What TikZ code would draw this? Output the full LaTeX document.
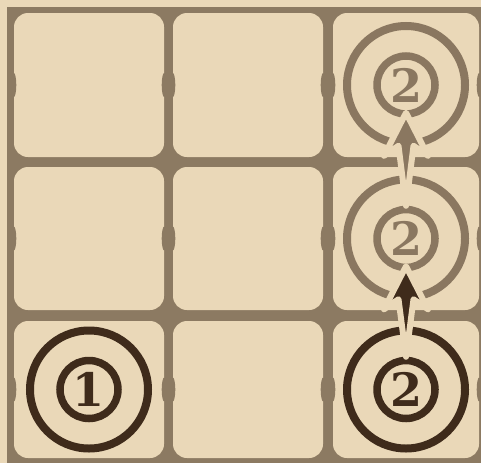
\documentclass[tikz,border=0pt]{standalone}
\usepackage{fontspec}
\usepackage{xcolor}
\usepackage{tikz}
\usetikzlibrary{calc}
\newfontfamily\digitfont{DejaVu Serif}
\definecolor{paper}{HTML}{EAD8B8}
\definecolor{gridbrown}{HTML}{8C7A62}
\definecolor{ringlight}{HTML}{8A7760}
\definecolor{ringdark}{HTML}{3F2B1B}

\tikzset{
  cellbox/.style={fill=paper, rounded corners=14pt, inner sep=0pt},
  outerring/.style={circle, draw=#1, line width=8pt, minimum size=118pt, inner sep=0pt},
  innerring/.style={circle, draw=#1, text=#1, line width=7.5pt, minimum size=58pt,
    inner sep=0pt, font=\digitfont\fontsize{46}{46}\selectfont\bfseries},
}

% spike arrow from the top of #1 up to the bottom of #2
\newcommand{\spike}[3]{%
  \filldraw[draw=paper, line width=6pt, line join=round, fill=#3]
    ($(#2.south)+(0,-5)$) -- ($(#2.south)+(22,38)$) -- ($(#2.south)+(7.5,28)$)
    -- (#1.north) -- ($(#2.south)+(-7.5,28)$) -- ($(#2.south)+(-22,38)$) -- cycle;}

\begin{document}
\begin{tikzpicture}[x=1pt, y=-1pt]
  \useasboundingbox (0,0) rectangle (481,463);
  \fill[paper] (0,0) rectangle (481,463);
  \fill[gridbrown] (7,7) rectangle (481,463);

  % board cells
  \node[cellbox, minimum width=150pt, minimum height=144pt] (c11) at (89,85) {};
  \node[cellbox, minimum width=150pt, minimum height=144pt] (c12) at (248,85) {};
  \node[cellbox, minimum width=146pt, minimum height=144pt] (c13) at (406,85) {};
  \node[cellbox, minimum width=150pt, minimum height=143pt] (c21) at (89,238.5) {};
  \node[cellbox, minimum width=150pt, minimum height=143pt] (c22) at (248,238.5) {};
  \node[cellbox, minimum width=146pt, minimum height=143pt] (c23) at (406,238.5) {};
  \node[cellbox, minimum width=150pt, minimum height=137pt] (c31) at (89,389.5) {};
  \node[cellbox, minimum width=150pt, minimum height=137pt] (c32) at (248,389.5) {};
  \node[cellbox, minimum width=146pt, minimum height=137pt] (c33) at (406,389.5) {};
  \foreach \c in {c11,c12,c13,c21,c22,c23,c31,c32,c33} {
    \fill[gridbrown] (\c.west) ellipse (2.5 and 12);
    \fill[gridbrown] (\c.east) ellipse (2.5 and 12);
  }

  % targets
  \node[outerring=ringdark] (r31) at (c31) {};
  \node[innerring=ringdark] (n31) at (c31) {1};
  \node[outerring=ringdark] (r33) at (c33) {};
  \node[innerring=ringdark] (n33) at (c33) {2};
  \node[outerring=ringlight] (r23) at (c23) {};
  \node[innerring=ringlight] (n23) at (c23) {2};
  \node[outerring=ringlight] (r13) at (c13) {};
  \node[innerring=ringlight] (n13) at (c13) {2};

  % moves
  \spike{n23}{n13}{ringlight}
  \spike{n33}{n23}{ringdark}
\end{tikzpicture}
\end{document}
